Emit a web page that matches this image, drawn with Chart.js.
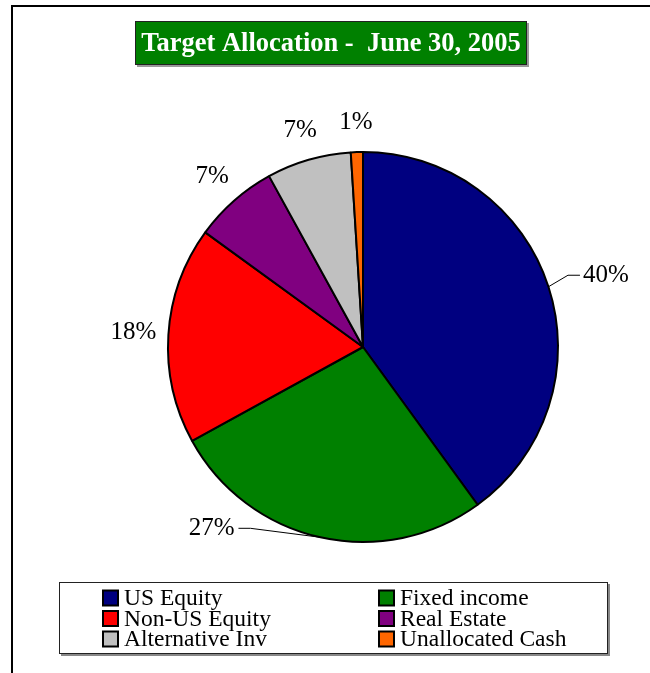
<!DOCTYPE html>
<html>
<head>
<meta charset="utf-8">
<script src="https://cdn.jsdelivr.net/npm/chart.js@4/dist/chart.umd.min.js"></script>
<style>
  html, body { margin: 0; padding: 0; background: #fff; }
  canvas { display: block; }
</style>
</head>
<body>
<canvas id="alloc" width="650" height="673"></canvas>
<script>
const categories = ['US Equity', 'Fixed income', 'Non-US Equity', 'Real Estate', 'Alternative Inv', 'Unallocated Cash'];
const allocation = [40, 27, 18, 7, 7, 1];
const sliceColors = ['#000080', '#008000', '#FF0000', '#800080', '#C0C0C0', '#FF6600'];
const chartTitle = 'Target Allocation -  June 30, 2005';

const SERIF = '"Liberation Serif", "Times New Roman", serif';

// frame, title box and legend box around the pie
const decorations = {
  id: 'decorations',
  beforeDraw(chart) {
    const ctx = chart.ctx;
    ctx.save();
    ctx.fillStyle = '#fff';
    ctx.fillRect(0, 0, chart.width, chart.height);
    // outer frame (left + top only)
    ctx.strokeStyle = '#000';
    ctx.lineWidth = 2;
    ctx.beginPath();
    ctx.moveTo(12, chart.height);
    ctx.lineTo(12, 6);
    ctx.lineTo(chart.width, 6);
    ctx.stroke();

    // title box
    ctx.fillStyle = '#999';
    ctx.fillRect(137, 23, 392, 44);
    ctx.fillStyle = '#008000';
    ctx.fillRect(135, 21, 392, 44);
    ctx.strokeStyle = '#222';
    ctx.lineWidth = 1;
    ctx.strokeRect(135.5, 21.5, 391, 43);
    ctx.fillStyle = '#fff';
    ctx.font = 'bold 26.5px ' + SERIF;
    ctx.textAlign = 'center';
    ctx.textBaseline = 'alphabetic';
    ctx.fillText(chartTitle, 331, 51);

    // legend box
    ctx.fillStyle = '#888';
    ctx.fillRect(61, 584, 549, 72);
    ctx.fillStyle = '#fff';
    ctx.fillRect(59, 582, 549, 72);
    ctx.strokeStyle = '#222';
    ctx.strokeRect(59.5, 582.5, 548, 71);

    const labels = chart.data.labels;
    const colors = chart.data.datasets[0].backgroundColor;
    ctx.font = '23.5px ' + SERIF;
    ctx.textAlign = 'left';
    ctx.textBaseline = 'middle';
    labels.forEach((lab, i) => {
      const col = i % 2, row = Math.floor(i / 2);
      const x = col === 0 ? 103 : 379;
      const y = 598 + row * 20.5;
      ctx.fillStyle = colors[i];
      ctx.fillRect(x, y - 7.5, 15, 15);
      ctx.strokeStyle = '#000';
      ctx.lineWidth = 2;
      ctx.strokeRect(x, y - 7.5, 15, 15);
      ctx.fillStyle = '#000';
      ctx.fillText(lab, x + 21, y + 1);
    });
    ctx.restore();
  }
};

// percent labels, two of them with leader lines
const sliceLabels = {
  id: 'sliceLabels',
  afterDatasetsDraw(chart, args, opts) {
    const ctx = chart.ctx;
    const meta = chart.getDatasetMeta(0);
    const data = chart.data.datasets[0].data;
    ctx.save();
    ctx.font = '25px ' + SERIF;
    ctx.fillStyle = '#000';
    ctx.textBaseline = 'middle';
    meta.data.forEach((arc, i) => {
      const p = arc.getProps(['x', 'y', 'startAngle', 'endAngle', 'outerRadius'], true);
      const mid = (p.startAngle + p.endAngle) / 2;
      const text = data[i] + '%';
      const lead = opts.leaders[i];
      if (lead) {
        const ex = p.x + Math.cos(mid) * p.outerRadius;
        const ey = p.y + Math.sin(mid) * p.outerRadius;
        const bx = ex + lead.dx, by = ey + lead.dy;
        const tx = bx + lead.run;
        ctx.strokeStyle = '#000';
        ctx.lineWidth = 1;
        ctx.beginPath();
        ctx.moveTo(ex, ey);
        ctx.lineTo(bx, by);
        ctx.lineTo(tx, by);
        ctx.stroke();
        ctx.textAlign = lead.run > 0 ? 'left' : 'right';
        ctx.fillText(text, tx + (lead.run > 0 ? 3 : -4), by);
      } else {
        // wider labels need a bit more room on the sides than on top
        const d = p.outerRadius + opts.gap + opts.sideExtra * Math.abs(Math.cos(mid));
        ctx.textAlign = 'center';
        ctx.fillText(text, p.x + Math.cos(mid) * d, p.y + Math.sin(mid) * d);
      }
    });
    ctx.restore();
  }
};

new Chart(document.getElementById('alloc'), {
  type: 'pie',
  data: {
    labels: categories,
    datasets: [{
      data: allocation,
      backgroundColor: sliceColors,
      borderColor: '#000',
      borderWidth: 2
    }]
  },
  options: {
    responsive: false,
    animation: false,
    layout: { padding: { left: 167, top: 151, right: 91, bottom: 130 } },
    plugins: {
      legend: { display: false },
      title: { display: false },
      tooltip: { enabled: false },
      sliceLabels: {
        gap: 29,
        sideExtra: 6,
        leaders: {
          0: { dx: 19.5, dy: -11.5, run: 12 },
          1: { dx: -70, dy: -9, run: -12 }
        }
      }
    }
  },
  plugins: [decorations, sliceLabels]
});
</script>
</body>
</html>
